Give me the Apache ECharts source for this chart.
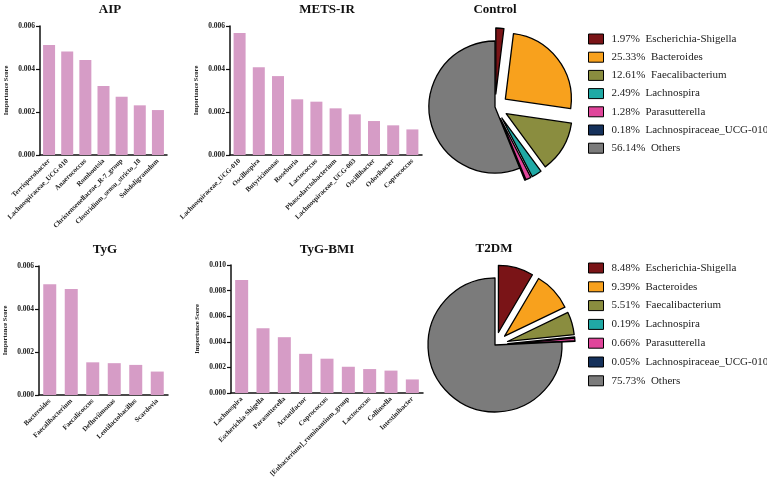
<!DOCTYPE html>
<html>
<head>
<meta charset="utf-8">
<script src="https://cdn.jsdelivr.net/npm/echarts@6/dist/echarts.min.js"></script>
<style>
html,body{margin:0;padding:0;background:#fff;}
#main{width:767px;height:488px;}
</style>
</head>
<body>
<div id="main"></div>
<script>
// bar panels: genus names + importance scores
var aipNames = ['Terrisporobacter','Lachnospiraceae_UCG-010','Anaerococcus','Romboutsia','Christensenellaceae_R-7_group','Clostridium_sensu_stricto_18','Subdoligranulum'];
var aipValues = [0.00512,0.00481,0.00442,0.00321,0.00271,0.00231,0.00209];

var metsNames = ['Lachnospiraceae_UCG-010','Oscillospira','Butyricimonas','Roseburia','Lactococcus','Phascolarctobacterium','Lachnospiraceae_UCG-003','Oscillibacter','Odoribacter','Coprococcus'];
var metsValues = [0.00567,0.00408,0.00367,0.00259,0.00248,0.00217,0.00189,0.00158,0.00138,0.00119];

var tygNames = ['Bacteroides','Faecalibacterium','Faecalicoccus','Defluviimonas','Lentilactobacillus','Scardovia'];
var tygValues = [0.00515,0.00493,0.00152,0.00148,0.00140,0.00109];

var bmiNames = ['Lachnospira','Escherichia-Shigella','Parasutterella','Acetatifactor','Coprococcus','[Eubacterium]_ruminantium_group','Lactococcus','Collinsella','Intestinibacter'];
var bmiValues = [0.00883,0.00506,0.00436,0.00306,0.00268,0.00205,0.00187,0.00175,0.00106];

// pies
var pieNames = ['Escherichia-Shigella','Bacteroides','Faecalibacterium','Lachnospira','Parasutterella','Lachnospiraceae_UCG-010','Others'];
var pieColors = ['#7a1417','#f8a11d','#8a8d3f','#20a9a5','#e0459b','#15315b','#7b7b7b'];
var controlPct = [1.97,25.33,12.61,2.49,1.28,0.18,56.14];
var t2dmPct = [8.48,9.39,5.51,0.19,0.66,0.05,75.73];

var serif = 'Liberation Serif, Times New Roman, serif';
var barColor = '#d69cc6';

var myChart = echarts.init(document.getElementById('main'));

function xAxisFor(g, names){
    return {
        type:'category', gridIndex:g, data:names,
        axisLine:{lineStyle:{color:'#111',width:1.5}},
        axisTick:{alignWithLabel:true,length:4,lineStyle:{color:'#111',width:1.2}},
        axisLabel:{rotate:45,interval:0,fontSize:7,fontWeight:'bold',fontFamily:serif,color:'#222',margin:5}
    };
}
function yAxisFor(g, max){
    return {
        type:'value', gridIndex:g, min:0, max:max, interval:0.002,
        name:'Importance Score', nameLocation:'middle', nameGap:30,
        nameTextStyle:{fontSize:6.5,fontWeight:'bold',fontFamily:serif,color:'#222'},
        axisLine:{show:true,lineStyle:{color:'#111',width:1.5}},
        axisTick:{show:true,length:4,lineStyle:{color:'#111',width:1.2}},
        splitLine:{show:false},
        axisLabel:{fontSize:7.5,fontWeight:'bold',fontFamily:serif,color:'#222',margin:5,
            formatter:function(v){return v.toFixed(3);}}
    };
}
function barSeries(g, vals, w){
    return {type:'bar', xAxisIndex:g, yAxisIndex:g, data:vals, barWidth:w,
        itemStyle:{color:barColor}, emphasis:{disabled:true}};
}
function pieSeries(pct, center, r){
    var d = [];
    for (var i = 0; i < pieNames.length; i++) {
        d.push({name:pieNames[i], value:pct[i], selected:pieNames[i] !== 'Others',
            itemStyle:{color:pieColors[i]}});
    }
    return {type:'pie', radius:r, center:center, startAngle:90, clockwise:true,
        selectedMode:'multiple', selectedOffset:13,
        label:{show:false}, labelLine:{show:false}, emphasis:{disabled:true},
        itemStyle:{borderColor:'#000',borderWidth:1.3},
        data:d};
}
function legendFor(pct, top, gap){
    return {
        orient:'vertical', left:588, top:top, padding:0, itemWidth:15, itemHeight:10, itemGap:gap,
        icon:'rect', selectedMode:false, data:pieNames,
        itemStyle:{borderColor:'#000',borderWidth:1},
        textStyle:{fontFamily:serif,fontSize:11,color:'#222',padding:[0,0,0,3]},
        formatter:function(name){ return pct[pieNames.indexOf(name)].toFixed(2) + '%  ' + name; }
    };
}
function titleFor(text, x, y){
    return {text:text, left:x, top:y, textAlign:'center', padding:0,
        textStyle:{fontFamily:serif,fontSize:13,fontWeight:'bold',color:'#111'}};
}

option = {
    backgroundColor:'#fff',
    animation:false,
    title:[
        titleFor('AIP',110,3),
        titleFor('METS-IR',327,3),
        titleFor('Control',495,3),
        titleFor('TyG',105,243),
        titleFor('TyG-BMI',327,243),
        titleFor('T2DM',494,242)
    ],
    grid:[
        {left:40,top:26,width:127,height:129,outerBoundsMode:'none'},
        {left:230,top:26,width:192,height:129,outerBoundsMode:'none'},
        {left:39,top:266,width:129,height:129,outerBoundsMode:'none'},
        {left:231,top:265,width:192,height:128,outerBoundsMode:'none'}
    ],
    xAxis:[xAxisFor(0,aipNames),xAxisFor(1,metsNames),xAxisFor(2,tygNames),xAxisFor(3,bmiNames)],
    yAxis:[yAxisFor(0,0.006),yAxisFor(1,0.006),yAxisFor(2,0.006),yAxisFor(3,0.010)],
    legend:[legendFor(controlPct,33.5,7.2),legendFor(t2dmPct,262.5,7.8)],
    series:[
        barSeries(0,aipValues,12),
        barSeries(1,metsValues,12),
        barSeries(2,tygValues,13),
        barSeries(3,bmiValues,13),
        pieSeries(controlPct,[495,107],66),
        pieSeries(t2dmPct,[495,345],67)
    ]
};
myChart.setOption(option);
</script>
</body>
</html>
